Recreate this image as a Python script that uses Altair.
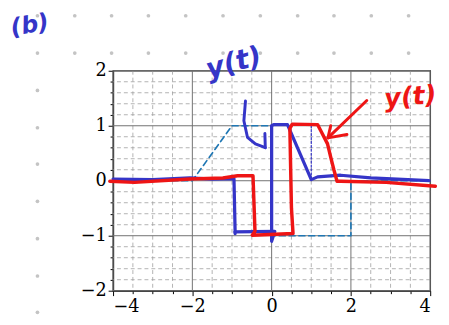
import altair as alt
import pandas as pd

# ---- data ----
# reference (dashed) signal
ref_x = [-4, -2, -1, 0, 0, 2, 2, 4]
ref_y = [0, 0, 1, 1, -1, -1, 0, 0]

# blue hand-drawn curve
blue_x = [-4.0, -3.0, -2.06, -1.5, -0.95, -0.92, -0.93, 0.08, 0.0, 0.0, 0.05, 0.40, 1.0, 1.16, 1.74, 2.5, 3.97]
blue_y = [0.03, 0.02, 0.05, 0.03, 0.04, -0.96, -0.93, -0.92, -1.1, 1.0, 1.02, 1.02, 0.02, 0.07, 0.10, 0.05, 0.0]

# red hand-drawn curve
red_x = [-4.08, -3.46, -2.06, -1.23, -0.86, -0.49, -0.47, -0.42, -0.49, 0.54, 0.50, 0.46, 0.52, 1.16, 1.24, 1.41, 1.49, 1.57, 1.65, 1.74, 2.89, 4.13]
red_y = [-0.01, -0.03, 0.03, 0.05, 0.09, 0.09, 0.09, -0.92, -0.99, -0.96, -0.5, 0.95, 1.03, 1.02, 0.91, 0.67, 0.43, 0.20, -0.01, -0.01, -0.03, -0.10]

# hand-drawn arrows and dotted mark
blue_arrow_x = [-0.66, -0.70, -0.61, -0.41, -0.16]
blue_arrow_y = [1.45, 1.09, 0.79, 0.67, 0.60]
blue_head_x = [-0.16, -0.17]
blue_head_y = [0.60, 0.86]
red_arrow_x = [2.40, 1.42]
red_arrow_y = [1.46, 0.78]
red_head_x = [1.49, 1.42, 1.90]
red_head_y = [1.00, 0.78, 0.84]
dot_line_x = [1.0, 1.0]
dot_line_y = [1.0, 0.03]

# handwritten labels
notes_text = ["(b)", "y(t)", "y(t)"]
notes_x = [-6.1, -0.95, 3.50]
notes_y = [2.82, 2.13, 1.52]
notes_color = ["#3535c8", "#3535c8", "#ee1515"]
notes_size = [24, 28, 26]
notes_angle = [350, 345, 355]

# axis ticks and grid
x_major = [-4, -2, 0, 2, 4]
x_minor = [-3.5, -3, -2.5, -1.5, -1, -0.5, 0.5, 1, 1.5, 2.5, 3, 3.5]
y_major = [-2, -1, 0, 1, 2]
y_minor = [-1.8, -1.6, -1.4, -1.2, -0.8, -0.6, -0.4, -0.2, 0.2, 0.4, 0.6, 0.8, 1.2, 1.4, 1.6, 1.8]

# background dot grid (page pixels)
dot_cols = [0, 38, 76, 113.5, 151, 189, 227, 265, 303, 340, 378, 416]
dot_rows_top = [13, 51]
dot_left_cols = [0, 38]
dot_left_rows = [89, 127, 164, 202, 240, 278, 315]

# ---- chart ----
XS = alt.Scale(domain=[-4, 4], nice=False, zero=False)
YS = alt.Scale(domain=[-2, 2], nice=False, zero=False)


def axis(orient, major, minor):
    test = "indexof(%s, datum.value) >= 0" % str(major)
    return alt.Axis(
        orient=orient, values=sorted(major + minor), title=None, grid=False,
        labelExpr="%s ? replace(format(datum.value, 'd'), '-', '\u2212') : ''" % test,
        labelFont="DejaVu Serif", labelFontSize=18, labelColor="black",
        labelPadding=2, tickColor="black", tickWidth=1,
        tickSize={"condition": {"test": test, "value": 5}, "value": 3},
        domainColor="#222222", domainWidth=1.3, labelOverlap=False,
    )


XA = axis("bottom", x_major, x_minor)
YA = axis("left", y_major, y_minor)


def xq(f):
    return alt.X(f, type="quantitative", scale=XS, axis=XA)


def yq(f):
    return alt.Y(f, type="quantitative", scale=YS, axis=YA)


def path_df(xs, ys):
    return pd.DataFrame({"x": xs, "y": ys, "i": list(range(len(xs)))})


def pen(xs, ys, color, width, dash=None):
    kw = dict(color=color, strokeWidth=width, strokeCap="round", strokeJoin="round", clip=False)
    if dash:
        kw["strokeDash"] = dash
    return alt.Chart(path_df(xs, ys)).mark_line(**kw).encode(
        x=xq("x"), y=yq("y"), order=alt.Order("i:Q"),
    )


gx_minor = alt.Chart(pd.DataFrame({"v": x_minor})).mark_rule(
    color="#a0a0a0", strokeWidth=0.8, strokeDash=[4, 3]).encode(x=xq("v"))
gy_minor = alt.Chart(pd.DataFrame({"v": y_minor})).mark_rule(
    color="#a0a0a0", strokeWidth=0.8, strokeDash=[4, 3]).encode(y=yq("v"))
gx_major = alt.Chart(pd.DataFrame({"v": x_major})).mark_rule(
    color="#707070", strokeWidth=1).encode(x=xq("v"))
gy_major = alt.Chart(pd.DataFrame({"v": y_major})).mark_rule(
    color="#707070", strokeWidth=1).encode(y=yq("v"))

ref_line = pen(ref_x, ref_y, "#1f77b4", 1.7, dash=[6, 4])
blue = pen(blue_x, blue_y, "#3535c8", 3.3)
red = pen(red_x, red_y, "#ee1515", 3.5)
blue_dot = pen(dot_line_x, dot_line_y, "#3535c8", 1.2, dash=[2, 2])
b_arrow = pen(blue_arrow_x, blue_arrow_y, "#3535c8", 3)
b_head = pen(blue_head_x, blue_head_y, "#3535c8", 3)
r_arrow = pen(red_arrow_x, red_arrow_y, "#ee1515", 3)
r_head = pen(red_head_x, red_head_y, "#ee1515", 3)

notes_df = pd.DataFrame({"t": notes_text, "x": notes_x, "y": notes_y, "c": notes_color,
                         "s": notes_size, "a": notes_angle})
notes = alt.Chart(notes_df).mark_text(font="DejaVu Sans", fontStyle="italic", fontWeight="bold",
                                      clip=False).encode(
    x=xq("x"), y=yq("y"),
    text="t:N",
    color=alt.Color("c:N", scale=None),
    size=alt.Size("s:Q", scale=None),
    angle=alt.Angle("a:Q", scale=None),
)

# dot grid given in page pixels; mapped onto the plot's data units
# (plot area spans page x 115..438 for -4..4 and page y 69..293 for 2..-2)
dots_x = [c for c in dot_cols for r in dot_rows_top] + [c for c in dot_left_cols for r in dot_left_rows]
dots_y = [r for c in dot_cols for r in dot_rows_top] + [r for c in dot_left_cols for r in dot_left_rows]
dots = alt.Chart(pd.DataFrame({"px": dots_x, "py": dots_y})).transform_calculate(
    dx="(datum.px - 115) / (323 / 8) - 4",
    dy="2 - (datum.py - 69) / (224 / 4)",
).mark_circle(color="#c4c4c4", opacity=1, size=14, clip=False).encode(
    x=xq("dx"), y=yq("dy"),
)

chart = alt.layer(dots, gx_minor, gy_minor, gx_major, gy_major, ref_line, blue_dot, blue, red,
                  b_arrow, b_head, r_arrow, r_head, notes).properties(
    width=323, height=224,
    autosize=alt.AutoSizeParams(type="none"),
    padding={"left": 107, "top": 61, "right": 11, "bottom": 32},
    background="white",
).configure_view(stroke="#222222", strokeWidth=1.3)

chart.save("out.html", embed_options={"renderer": "svg", "actions": False})
